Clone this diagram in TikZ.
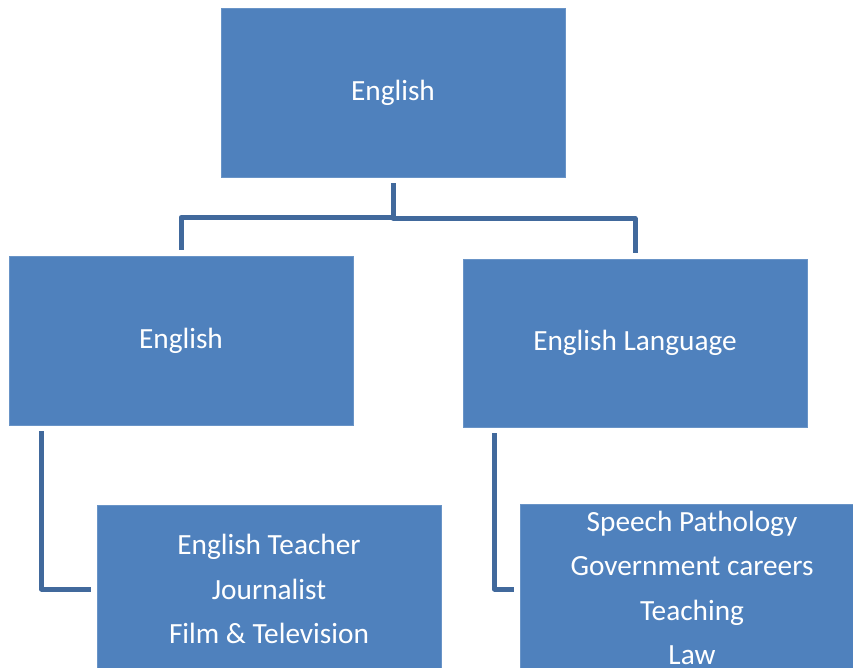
\documentclass[tikz,border=0pt]{standalone}
\usepackage{fontspec}
\setmainfont{Carlito}
\definecolor{boxblue}{HTML}{4F81BD}
\definecolor{linkblue}{HTML}{41699C}
\begin{document}
\begin{tikzpicture}[x=1pt,y=-1pt,
  box/.style={rectangle, fill=boxblue, draw=boxblue!85!white, line width=0.8pt,
    text=white, font=\fontsize{29.3}{44.5}\selectfont, align=center, inner sep=0pt},
  link/.style={draw=linkblue, line width=5pt, line join=round}]
\useasboundingbox (0,0) rectangle (853,667);
\clip (0,0) rectangle (853,667);
\node[box, minimum width=344pt, minimum height=169pt] (root) at (393,92.5) {English};
\node[box, minimum width=344pt, minimum height=169pt] (eng) at (181,340.5) {English};
\node[box, minimum width=344pt, minimum height=168pt] (lang) at (635,343) {English Language};
\node[box, minimum width=344pt, minimum height=168pt] (engjobs) at (269,589) {English Teacher\\Journalist\\Film \& Television};
\node[box, minimum width=344pt, minimum height=168pt] (langjobs) at (692,588) {Speech Pathology\\Government careers\\Teaching\\Law};
\draw[link] ([yshift=-6pt]root.south) -- ++(0,35) -| ([yshift=6pt]lang.north);
\draw[link] ([yshift=-6pt]root.south) -- ++(0,34) -| ([yshift=6pt]eng.north);
\draw[link] ([xshift=33pt,yshift=-6pt]eng.south west) |- ([xshift=-6pt]engjobs.west);
\draw[link] ([xshift=32pt,yshift=-6pt]lang.south west) |- ([xshift=-6pt,yshift=-1pt]langjobs.west);
\end{tikzpicture}
\end{document}
